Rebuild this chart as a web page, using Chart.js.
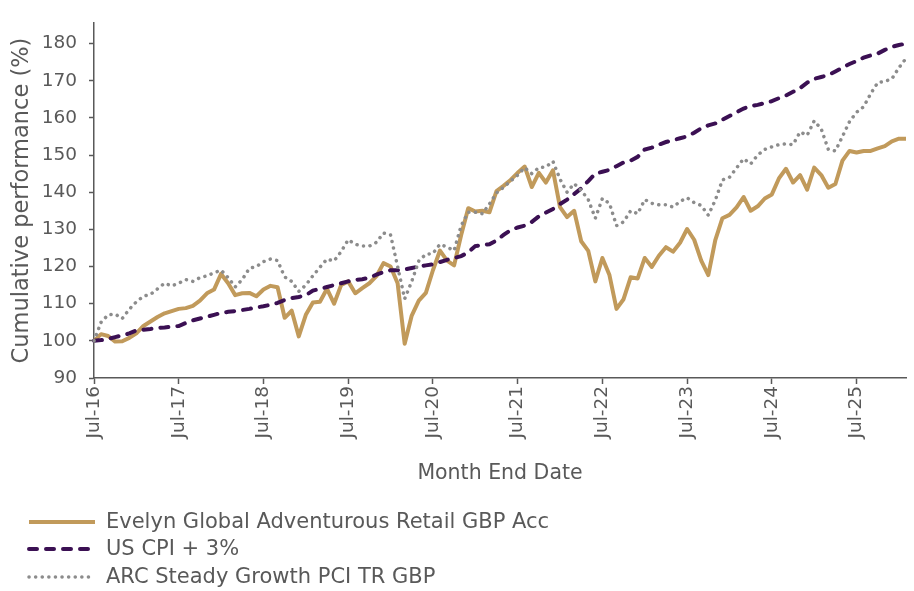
<!DOCTYPE html>
<html>
<head>
<meta charset="utf-8">
<script src="https://cdn.jsdelivr.net/npm/chart.js@4.4.1/dist/chart.umd.min.js"></script>
<style>
    html, body { margin: 0; padding: 0; background: #fff; }
    #grafico { display: block; }
</style>
</head>
<body>
<canvas id="grafico" width="914" height="591"></canvas>
<script>
// month-end dates, Jul-16 .. Feb-26
const monthNames = ['Jan', 'Feb', 'Mar', 'Apr', 'May', 'Jun', 'Jul', 'Aug', 'Sep', 'Oct', 'Nov', 'Dec'];
const months = [];
for (let i = 0; i < 116; i++) {
    const m = (6 + i) % 12;
    const y = 16 + Math.floor((6 + i) / 12);
    months.push(monthNames[m] + '-' + y);
}

const yTicks = [90, 100, 110, 120, 130, 140, 150, 160, 170, 180];

const fundLabel = 'Evelyn Global Adventurous Retail GBP Acc';
const fund = [
    100, 101.8, 101.3, 99.8, 99.9, 100.8, 102, 104, 105.2, 106.4, 107.4, 108,
    108.6, 108.8, 109.4, 110.8, 112.8, 113.8, 118, 115.5, 112.3, 112.8, 112.9, 112,
    113.8, 114.8, 114.4, 106.2, 108.1, 101.2, 107, 110.3, 110.5, 114, 110, 115,
    116, 112.8, 114.2, 115.5, 117.4, 120.9, 120, 115.5, 99.2, 106.8, 110.8, 112.9,
    119, 124.3, 121.6, 120.3, 128.5, 135.7, 134.8, 135, 134.6, 140.3, 141.7, 143.3,
    145.2, 146.9, 141.4, 145.2, 142.6, 145.9, 136, 133.3, 135, 126.8, 124.2, 116,
    122.3, 117.7, 108.6, 111.2, 117.1, 116.8, 122.3, 119.9, 122.9, 125.2, 124, 126.4,
    130.1, 127.2, 121.6, 117.7, 127.2, 133, 133.9, 135.9, 138.7, 135, 136.2, 138.3,
    139.4, 143.7, 146.3, 142.6, 144.6, 140.7, 146.6, 144.6, 141.2, 142.2, 148.5, 151.1,
    150.7, 151.1, 151.1, 151.8, 152.4, 153.7, 154.4, 154.4
];

const cpiLabel = 'US CPI + 3%';
const cpi = [
    100, 100.2, 100.5, 101, 101.5, 102, 102.8, 103, 103.2, 103.5, 103.6, 103.8,
    104, 104.8, 105.5, 106, 106.5, 107, 107.5, 107.8, 108, 108.3, 108.6, 109,
    109.3, 109.7, 110.2, 111, 111.5, 111.8, 112.3, 113.5, 114, 114.5, 115, 115.5,
    116, 116.4, 116.6, 117, 117.8, 118.5, 119, 119, 119.2, 119.6, 120, 120.3,
    120.6, 121.2, 121.8, 122.3, 122.8, 123.8, 125.5, 125.8, 126, 127, 128.5, 129.8,
    130.5, 131, 132, 133.5, 134.5, 135.5, 136.8, 138, 139.5, 141, 143, 145,
    145.5, 146, 147, 148, 148.5, 149.5, 151.5, 152, 152.8, 153.5, 154, 154.5,
    155, 156, 157.2, 158, 158.5, 159.5, 160.5, 161.5, 162.5, 163.2, 163.5, 164,
    164.5, 165.3, 166, 167, 168, 169.5, 170.5, 171, 171.5, 172.5, 173.5, 174.5,
    175.3, 176.2, 176.8, 177.3, 178.3, 179.1, 179.6, 180
];

const arcLabel = 'ARC Steady Growth PCI TR GBP';
const arc = [
    100, 105, 107, 107.2, 106, 108.5, 110.5, 112, 112.5, 114, 115.5, 114.8,
    115.5, 116.5, 116, 117, 117.5, 118.3, 119, 117, 114.5, 116.5, 119.5, 120,
    121.3, 122, 121.6, 117.2, 116, 113.3, 115, 117.5, 119.8, 122, 121.5, 124,
    127.2, 126, 125.5, 125.5, 126.5, 129, 128.5, 120, 111.3, 116, 121.5, 123.3,
    123.5, 126, 125.2, 124.3, 131, 134.6, 134.6, 134.2, 136.8, 139.8, 141.3, 143,
    144.6, 146.6, 145, 146.6, 146.8, 148.3, 143.5, 140, 142.3, 140.5, 138, 133,
    138.3, 137, 131, 132, 135, 134.2, 138, 137, 136.6, 136.6, 136, 137.5,
    138.5, 137.2, 136.4, 133.8, 137.9, 143.3, 144, 146.5, 149, 147.6, 150, 151.5,
    152.2, 152.8, 153, 152.8, 156.2, 155.3, 159.2, 157, 151.5, 151.1, 155, 159,
    161.5, 163, 166.5, 169.5, 169.8, 170.5, 173.5, 176
];

const textColor = '#595959';
const axisColor = '#595959';

// legend stacked one entry per row under the chart
const stackedLegend = {
    id: 'stackedLegend',
    afterDraw(chart) {
        const ctx = chart.ctx;
        const rows = [522, 549, 577];
        ctx.save();
        chart.data.datasets.forEach((ds, i) => {
            const y = rows[i];
            ctx.beginPath();
            ctx.strokeStyle = ds.borderColor;
            ctx.lineWidth = ds.borderWidth;
            ctx.lineCap = ds.borderCapStyle || 'butt';
            ctx.setLineDash(ds.borderDash || []);
            ctx.moveTo(29, y);
            ctx.lineTo(95, y);
            ctx.stroke();
            ctx.setLineDash([]);
            ctx.fillStyle = textColor;
            ctx.font = '21px "DejaVu Sans"';
            ctx.textBaseline = 'middle';
            ctx.textAlign = 'left';
            ctx.fillText(ds.label, 106, y + 1);
        });
        ctx.restore();
    }
};

const ctx = document.getElementById('grafico').getContext('2d');
Chart.defaults.font.family = '"DejaVu Sans", sans-serif';
Chart.defaults.color = textColor;

new Chart(ctx, {
    type: 'line',
    data: {
        labels: months,
        datasets: [{
            label: fundLabel,
            data: fund,
            borderColor: '#C19A5B',
            borderWidth: 4,
            borderJoinStyle: 'round',
            pointRadius: 0,
            tension: 0,
            order: 3,
        }, {
            label: cpiLabel,
            data: cpi,
            borderColor: '#3B1053',
            borderWidth: 4,
            borderDash: [8, 9],
            borderCapStyle: 'round',
            pointRadius: 0,
            tension: 0,
            order: 2,
        }, {
            label: arcLabel,
            data: arc,
            borderColor: '#8C8C8C',
            borderWidth: 3.5,
            borderDash: [0.1, 6.5],
            borderCapStyle: 'round',
            pointRadius: 0,
            tension: 0,
            order: 1,
        }],
    },
    options: {
        responsive: false,
        animation: false,
        layout: { padding: { top: 12, right: 8, bottom: 100, left: 0 } },
        plugins: {
            legend: { display: false },
            tooltip: { enabled: false },
        },
        scales: {
            x: {
                type: 'category',
                offset: false,
                border: { display: true, color: axisColor, width: 1.5 },
                grid: { drawOnChartArea: false, drawTicks: true, tickLength: 6, tickColor: axisColor, tickWidth: 1.5 },
                ticks: {
                    autoSkip: false,
                    minRotation: 90,
                    maxRotation: 90,
                    padding: 2,
                    color: textColor,
                    font: { size: 18.5 },
                },
                afterBuildTicks: scale => {
                    scale.ticks = scale.ticks.filter(t => months[t.value].startsWith('Jul'));
                },
                afterFit: scale => { scale.height = 113; },
                title: {
                    display: true,
                    text: 'Month End Date',
                    color: textColor,
                    font: { size: 20.5 },
                    padding: { top: 0, bottom: 5 },
                },
            },
            y: {
                min: 90,
                max: 185.5,
                border: { display: true, color: axisColor, width: 1.5 },
                grid: { drawOnChartArea: false, drawTicks: true, tickLength: 5, tickColor: axisColor, tickWidth: 1.5 },
                ticks: {
                    padding: 12,
                    color: textColor,
                    font: { size: 18.5 },
                },
                afterBuildTicks: scale => {
                    scale.ticks = yTicks.map(v => ({ value: v }));
                },
                afterFit: scale => { scale.width = 94; },
                title: {
                    display: true,
                    text: 'Cumulative performance (%)',
                    color: textColor,
                    font: { size: 22.5 },
                    padding: { top: 9, bottom: 0 },
                },
            },
        },
    },
    plugins: [stackedLegend],
});
</script>
</body>
</html>
